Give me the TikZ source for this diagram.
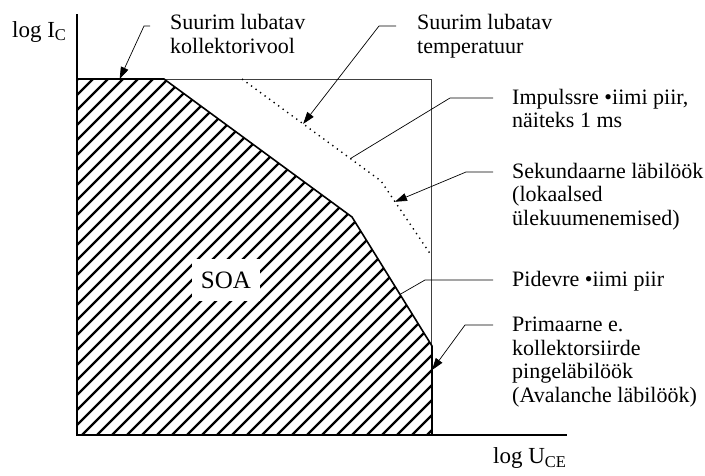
\documentclass[tikz,border=0pt]{standalone}
\usepackage{fontspec}
\setmainfont{Liberation Serif}
\usetikzlibrary{arrows.meta,calc}
\begin{document}
\begin{tikzpicture}[x=1pt,y=-1pt,
  note/.style={anchor=base west, inner sep=0pt, align=left,
    font=\fontsize{22}{23.5}\selectfont},
  axislabel/.style={anchor=base west, inner sep=0pt,
    font=\fontsize{23}{23}\selectfont},
  leader/.style={line width=0.7pt},
  pointer/.style={leader, -{Triangle[length=12pt,width=8pt]}},
  axis/.style={line width=1.2pt},
  frame/.style={line width=0.8pt, black!75},
  soaedge/.style={line width=1.6pt, line join=miter},
  hatch/.style={line width=2.2pt},
  limit/.style={line width=1.4pt, dash pattern=on 1.3pt off 4.3pt}
]
\useasboundingbox (0,0) rectangle (705,475);

% axes origin and ends
\coordinate (O) at (77,435);
\coordinate (ytop) at (77,14);
\coordinate (xend) at (567,435);

% safe operating area corners
\coordinate (p1) at (77,79);
\coordinate (p2) at (164,79);
\coordinate (p3) at (352,217);
\coordinate (p4) at (432,346);
\coordinate (p5) at (432,435);

% outer frame corners
\coordinate (b1) at (431,79);
\coordinate (b2) at (431,435);

% pulse-mode limit (dotted)
\coordinate (d1) at (242,79);
\coordinate (d2) at (381,181);
\coordinate (d3) at (431,255);

% hatched area
\begin{scope}
  \clip (O) -- (p1) -- (p2) -- (p3) -- (p4) -- (p5) -- cycle;
  \foreach \k in {-30,...,25}
    \draw[hatch] (\k*15+77,440) -- ++(380,-380);
\end{scope}

% frame, area border, dotted limit
\draw[frame] (p1) -- (b1) -- (b2);
\draw[soaedge] (p1) -- (p2) -- (p3) -- (p4) -- (p5);
\draw[limit] (d1) -- (d2) -- (d3);

% axes
\draw[axis] (ytop) -- (O) -- (xend);

% area label
\node[fill=white, inner sep=0pt, minimum width=68pt, minimum height=42pt,
      font=\fontsize{25}{25}\selectfont] (soa) at (226,280) {SOA};

% axis labels
\node[axislabel] (ylab) at (12,37)
  {log I\raisebox{-3pt}{\fontsize{16.5}{16.5}\selectfont C}};
\node[axislabel] (xlab) at (493,463)
  {log U\raisebox{-4pt}{\fontsize{16.5}{16.5}\selectfont CE}};

% annotations (anchored at the baseline of their last line)
\node[note] (tCurr) at (170,53) {Suurim lubatav\\kollektorivool};
\node[note] (tTemp) at (417,53) {Suurim lubatav\\temperatuur};
\node[note] (tPulse) at (512,127.5) {Impulssre •iimi piir,\\näiteks 1 ms};
\node[note] (tSec) at (512,225) {Sekundaarne läbilöök\\(lokaalsed\\ülekuumenemised)};
\node[note] (tCont) at (512,286) {Pidevre •iimi piir};
\node[note] (tPrim) at (512,402) {Primaarne e.\\kollektorsiirde\\pingeläbilöök\\(Avalanche läbilöök)};

% leader start points
\coordinate (lCurr) at (150,26);
\coordinate (lTemp) at (396,26);
\coordinate (lPulse) at (493,98);
\coordinate (lSec) at (493,172);
\coordinate (lCont) at (493,280);
\coordinate (lPrim) at (493,325);

% leaders
\draw[pointer] (lCurr) -- ++(-6,0) -- ($(p1)!0.49!(p2)$);
\draw[pointer] (lTemp) -- ++(-17,0) -- ($(d1)!0.44!(d2)$);
\draw[leader] (lPulse) -- ++(-43,0) -- ($(d1)!0.78!(d2)$);
\draw[pointer] (lSec) -- ++(-27,0) -- ($(d2)!0.28!(d3)$);
\draw[leader] (lCont) -- ++(-68,0) -- ($(p3)!0.6!(p4)$);
\draw[pointer] (lPrim) -- ++(-28,0) -- ($(p4)!0.27!(p5)$);
\end{tikzpicture}
\end{document}
